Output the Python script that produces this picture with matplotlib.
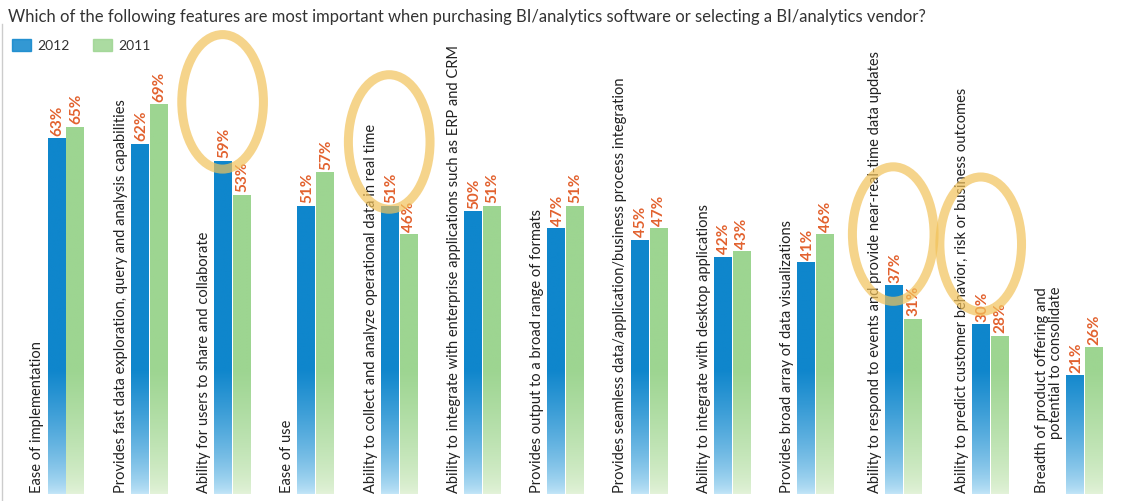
import numpy as np
import matplotlib.pyplot as plt
from matplotlib.patches import Ellipse, Rectangle
from matplotlib.colors import LinearSegmentedColormap

features = [
    "Ease of implementation",
    "Provides fast data exploration, query and analysis capabilities",
    "Ability for users to share and collaborate",
    "Ease of use",
    "Ability to collect and analyze operational data in real time",
    "Ability to integrate with enterprise applications such as ERP and CRM",
    "Provides output to a broad range of formats",
    "Provides seamless data/application/business process integration",
    "Ability to integrate with desktop applications",
    "Provides broad array of data visualizations",
    "Ability to respond to events and provide near-real-time data updates",
    "Ability to predict customer behavior, risk or business outcomes",
    "Breadth of product offering and\npotential to consolidate",
]
v2012 = [63, 62, 59, 51, 51, 50, 47, 45, 42, 41, 37, 30, 21]
v2011 = [65, 69, 53, 57, 46, 51, 51, 47, 43, 46, 31, 28, 26]
years = ["2012", "2011"]

# circled groups (hand drawn highlights)
circled = [2, 4, 10, 11]
circle_y = [69.4, 62.3, 46.0, 44.2]

title = ("Which of the following features are most important when purchasing "
         "BI/analytics software or selecting a BI/analytics vendor?")

blue_dark, blue_light = "#0f86cc", "#c4e6f8"
green_dark, green_light = "#9dd591", "#e4f3da"
val_color = "#e2622f"
fam = ["Lato", "DejaVu Sans"]

fig = plt.figure(figsize=(11.24, 5.02), dpi=100)
ax = fig.add_axes([0, 0, 1, 1])
ax.set_xlim(-0.792, 12.70)
ax.set_ylim(-1.24, 87.6)
ax.axis("off")

x = np.arange(len(features), dtype=float)
x[10] += 0.05
x[11] += 0.1
x[12] += 0.23
w = 0.215

bars_b = ax.bar(x - w / 2 - 0.006, v2012, w, color=blue_dark, linewidth=0)
bars_g = ax.bar(x + w / 2 + 0.006, v2011, w, color=green_dark, linewidth=0)

# gradient: light at the bottom, full colour from about 22% up
for bars, c0, c1 in [(bars_b, blue_light, blue_dark), (bars_g, green_light, green_dark)]:
    cmap = LinearSegmentedColormap.from_list("g", [c0, c1])
    for p in bars:
        x0, h = p.get_x(), p.get_height()
        yy = np.linspace(0, h, 400).reshape(-1, 1)
        t = np.clip(yy / 22.0, 0, 1) ** 0.7
        im = ax.imshow(t, cmap=cmap, vmin=0, vmax=1, origin="lower", aspect="auto",
                       extent=[x0, x0 + p.get_width(), 0, h], zorder=3,
                       interpolation="bilinear")
        im.set_clip_path(p)

for i in range(len(features)):
    ax.text(x[i] - w / 2 + 0.01, v2012[i] + 0.6, f"{v2012[i]}%", rotation=90,
            ha="center", va="bottom", color=val_color, fontsize=11,
            fontweight="bold", family=fam, zorder=5)
    ax.text(x[i] + w / 2 + 0.012, v2011[i] + 0.6, f"{v2011[i]}%", rotation=90,
            ha="center", va="bottom", color=val_color, fontsize=11,
            fontweight="bold", family=fam, zorder=5)
    ax.text(x[i] - w - 0.045, 0.4, features[i], rotation=90, ha="right",
            va="bottom", color="#222222", fontsize=10.5, family=fam,
            linespacing=1.05, zorder=5)

for gi, cy in zip(circled, circle_y):
    ax.add_patch(Ellipse((x[gi] - 0.12, cy), 0.98, 23.8, fill=False,
                         edgecolor="#f2c25a", alpha=0.7, linewidth=6.5, zorder=6))

fig.text(8 / 1124, 1 - 17 / 502, title, ha="left", va="center",
         fontsize=12, color="#333333", family=fam)

# legend
for lx, col, lab in [(12, blue_dark, years[0]), (93, green_dark, years[1])]:
    fig.patches.append(Rectangle((lx / 1124, 1 - 52 / 502), 19 / 1124, 12 / 502,
                                 transform=fig.transFigure, color=col, alpha=0.85))
    fig.text((lx + 25) / 1124, 1 - 46 / 502, lab, ha="left", va="center",
             fontsize=10, color="#333333", family=fam)

fig.lines.append(plt.Line2D([1.5 / 1124, 1.5 / 1124], [0, 1 - 25 / 502],
                            transform=fig.transFigure, color="#cccccc", lw=1))

fig.savefig("out.png", dpi=100, facecolor="white")
